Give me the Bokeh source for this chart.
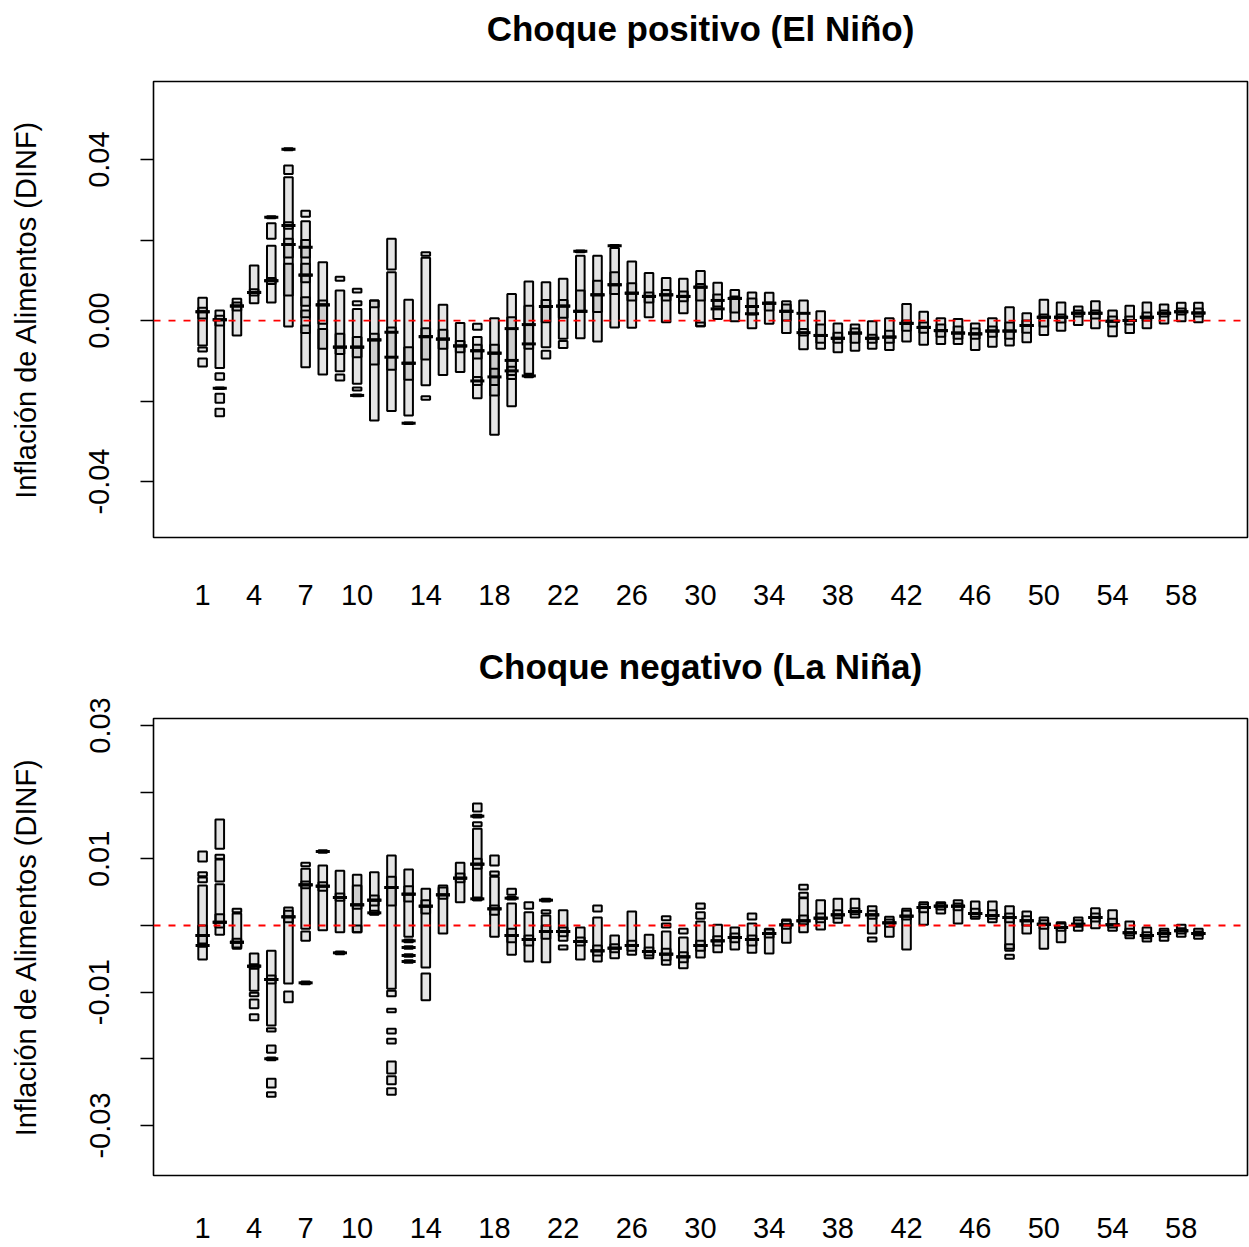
from bokeh.plotting import figure
from bokeh.models import Range1d, FixedTicker, ColumnDataSource, Span
from bokeh.core.properties import value
from bokeh.layouts import column
from bokeh.embed import file_html
from bokeh.resources import INLINE

FONT = "Liberation Sans"

X_TICKS = [1, 4, 7, 10, 14, 18, 22, 26, 30, 34, 38, 42, 46, 50, 54, 58]

NINO_TITLE = "Choque positivo (El Niño)"
NINA_TITLE = "Choque negativo (La Niña)"
Y_LABEL = "Inflación de Alimentos (DINF)"

NINO_YTICKS = [-0.04, -0.02, 0, 0.02, 0.04]
NINO_YLABELS = ["-0.04", "", "0.00", "", "0.04"]
NINA_YTICKS = [-0.03, -0.02, -0.01, 0, 0.01, 0.02, 0.03]
NINA_YLABELS = ["-0.03", "", "-0.01", "", "0.01", "", "0.03"]

# (horizon, lower hinge, upper hinge, median or None)
NINO_BOXES = [
    (1, -0.0062, 0.0057, 0.0022), (1, 0.0005, 0.0032, 0.0022), (1, -0.0077, -0.0067, None), (1, -0.0114, -0.0094, None),
    (2, -0.0118, 0.0025, 0.0002), (2, -0.0012, 0.0012, 0.0002), (2, -0.0147, -0.0131, None), (2, -0.0170, -0.0166, -0.0168),
    (2, -0.0204, -0.0182, None), (2, -0.0238, -0.0219, None),
    (3, -0.0037, 0.0054, 0.0036), (3, 0.0025, 0.0045, 0.0036),
    (4, 0.0043, 0.0137, 0.0070), (4, 0.0062, 0.0078, 0.0070),
    (5, 0.0254, 0.0259, 0.02565), (5, 0.0203, 0.0242, None), (5, 0.0045, 0.0186, 0.0099), (5, 0.0091, 0.0106, 0.0099),
    (6, 0.0423, 0.0428, 0.04255), (6, 0.0364, 0.0385, None), (6, -0.0015, 0.0356, 0.0189), (6, 0.0228, 0.0244, 0.0236),
    (6, 0.0157, 0.0203, 0.0189), (6, 0.0062, 0.0141, None),
    (7, 0.0258, 0.0273, None), (7, -0.0116, 0.0247, 0.0113), (7, 0.0095, 0.0141, 0.0113), (7, 0.0037, 0.0058, None),
    (7, 0.0008, 0.0025, None), (7, -0.0031, -0.0012, None), (7, 0.0157, 0.0200, 0.0182),
    (8, -0.0134, 0.0145, 0.0039), (8, -0.0008, 0.0050, 0.0039), (8, -0.0070, -0.0021, None),
    (9, 0.0099, 0.0109, None), (9, -0.0126, 0.0075, -0.0066), (9, -0.0083, -0.0033, -0.0066), (9, -0.0149, -0.0134, None),
    (10, 0.0070, 0.0079, None), (10, 0.0038, 0.0048, None), (10, -0.0157, 0.0029, -0.0066), (10, -0.0091, -0.0041, -0.0066),
    (10, -0.0174, -0.0166, None), (10, -0.0188, -0.0184, -0.0186),
    (11, -0.0248, 0.0050, -0.0048), (11, -0.0109, -0.0033, -0.0048), (11, 0.0033, 0.0050, None),
    (12, 0.0127, 0.0203, None), (12, -0.0225, 0.0120, -0.0091), (12, -0.0122, -0.0017, -0.0029),
    (13, -0.0236, 0.0052, -0.0106), (13, -0.0147, -0.0066, -0.0106), (13, -0.0257, -0.0253, -0.0255),
    (14, 0.0161, 0.0170, None), (14, -0.0161, 0.0156, -0.0040), (14, -0.0097, -0.0019, -0.0040), (14, -0.0197, -0.0188, None),
    (15, -0.0135, 0.0039, -0.0046), (15, -0.0070, -0.0023, -0.0046),
    (16, -0.0128, -0.0006, -0.0063), (16, -0.0079, -0.0051, -0.0063),
    (17, -0.0023, -0.0008, None), (17, -0.0193, -0.0041, -0.0075), (17, -0.0094, -0.0060, -0.0075), (17, -0.0160, -0.0140, -0.0150),
    (18, -0.0284, 0.0006, -0.0081), (18, -0.0186, -0.0060, -0.0081), (18, -0.0160, -0.0120, -0.0140),
    (19, -0.0213, 0.0066, -0.0099), (19, -0.0145, 0.0008, -0.0020), (19, -0.0135, -0.0115, -0.0125),
    (20, -0.0132, 0.0097, -0.0058), (20, -0.0070, 0.0037, -0.0010), (20, -0.0141, -0.0134, -0.01375),
    (21, -0.0066, 0.0095, 0.0035), (21, -0.0004, 0.0051, 0.0035), (21, -0.0094, -0.0075, None),
    (22, -0.0045, 0.0104, 0.0036), (22, 0.0007, 0.0051, 0.0036), (22, -0.0068, -0.0051, None),
    (23, 0.0170, 0.0174, 0.0172), (23, -0.0044, 0.0161, 0.0023), (23, 0.0023, 0.0075, 0.0023),
    (24, -0.0052, 0.0161, 0.0064), (24, 0.0021, 0.0099, 0.0064),
    (25, 0.0184, 0.0188, 0.0186), (25, -0.0017, 0.0180, 0.0089), (25, 0.0066, 0.0120, 0.0089),
    (26, -0.0018, 0.0147, 0.0068), (26, 0.0050, 0.0093, 0.0068),
    (27, 0.0008, 0.0118, 0.0060), (27, 0.0045, 0.0070, 0.0060),
    (28, -0.0004, 0.0106, 0.0064), (28, 0.0050, 0.0076, 0.0064),
    (29, 0.0018, 0.0104, 0.0060), (29, 0.0048, 0.0072, 0.0060),
    (30, -0.0014, 0.0123, 0.0083), (30, 0.0050, 0.0091, 0.0083), (30, -0.0014, -0.0005, None),
    (31, 0.0004, 0.0094, 0.0029), (31, 0.0035, 0.0065, 0.0050),
    (32, -0.0002, 0.0076, 0.0055), (32, 0.0020, 0.0060, 0.0055),
    (33, -0.0019, 0.0070, 0.0017), (33, 0.0015, 0.0055, 0.0035),
    (34, -0.0008, 0.0069, 0.0043), (34, 0.0025, 0.0045, 0.0043),
    (35, -0.0031, 0.0048, 0.0023), (35, 0.0000, 0.0040, 0.0023),
    (36, -0.0071, 0.0050, 0.0018), (36, -0.0037, -0.0021, -0.0030),
    (37, -0.0070, 0.0023, -0.0037), (37, -0.0055, -0.0010, -0.0037),
    (38, -0.0079, -0.0007, -0.0044), (38, -0.0055, -0.0030, -0.0044),
    (39, -0.0075, -0.0010, -0.0031), (39, -0.0055, -0.0020, -0.0031),
    (40, -0.0070, -0.0002, -0.0044), (40, -0.0055, -0.0035, -0.0044),
    (41, -0.0073, 0.0006, -0.0041), (41, -0.0055, -0.0025, -0.0041),
    (42, -0.0052, 0.0041, -0.0007), (42, -0.0025, 0.0000, -0.0007),
    (43, -0.0060, 0.0022, -0.0017), (43, -0.0030, -0.0005, -0.0017),
    (44, -0.0058, 0.0006, -0.0025), (44, -0.0040, -0.0010, -0.0025),
    (45, -0.0058, 0.0004, -0.0031), (45, -0.0045, -0.0015, -0.0031),
    (46, -0.0073, -0.0007, -0.0033), (46, -0.0045, -0.0020, -0.0033),
    (47, -0.0065, 0.0006, -0.0026), (47, -0.0040, -0.0015, -0.0026),
    (48, -0.0062, 0.0033, -0.0026), (48, -0.0045, -0.0005, -0.0026),
    (49, -0.0054, 0.0018, -0.0012), (49, -0.0030, 0.0000, -0.0012),
    (50, -0.0036, 0.0052, 0.0008), (50, -0.0015, 0.0015, 0.0008),
    (51, -0.0025, 0.0045, 0.0008), (51, -0.0005, 0.0015, 0.0008),
    (52, -0.0011, 0.0035, 0.0018), (52, 0.0010, 0.0025, 0.0018),
    (53, -0.0019, 0.0048, 0.0018), (53, 0.0005, 0.0025, 0.0018),
    (54, -0.0039, 0.0025, -0.0002), (54, -0.0015, 0.0010, -0.0002),
    (55, -0.0031, 0.0037, 0.0000), (55, -0.0010, 0.0010, 0.0000),
    (56, -0.0019, 0.0045, 0.0008), (56, 0.0000, 0.0020, 0.0008),
    (57, -0.0007, 0.0040, 0.0018), (57, 0.0010, 0.0025, 0.0018),
    (58, -0.0002, 0.0044, 0.0022), (58, 0.0015, 0.0030, 0.0022),
    (59, -0.0004, 0.0044, 0.0019), (59, 0.0010, 0.0030, 0.0019),
]

NINA_BOXES = [
    (1, 0.0096, 0.0111, None), (1, 0.0074, 0.0080, None), (1, 0.0065, 0.0072, None), (1, -0.0051, 0.0060, -0.0015),
    (1, -0.0027, 0.0000, -0.0015), (1, -0.0032, -0.0028, -0.0030),
    (2, 0.0115, 0.0159, None), (2, 0.0100, 0.0106, None), (2, 0.0066, 0.0099, None), (2, -0.0014, 0.0062, 0.0005),
    (2, -0.0003, 0.0017, 0.0005),
    (3, 0.0020, 0.0025, None), (3, -0.0035, 0.0018, -0.0025), (3, -0.0033, -0.0020, -0.0025),
    (4, -0.0098, -0.0042, -0.0061), (4, -0.0065, -0.0058, -0.0061), (4, -0.0106, -0.0101, None), (4, -0.0124, -0.0111, None),
    (4, -0.0142, -0.0133, None),
    (5, -0.0150, -0.0038, -0.0081), (5, -0.0087, -0.0075, -0.0081), (5, -0.0159, -0.0154, None), (5, -0.0191, -0.0180, None),
    (5, -0.0202, -0.0198, -0.0200), (5, -0.0243, -0.0230, None), (5, -0.0257, -0.0250, None),
    (6, -0.0087, 0.0027, 0.0013), (6, 0.0005, 0.0022, 0.0013), (6, -0.0115, -0.0099, None),
    (7, 0.0089, 0.0094, None), (7, -0.0005, 0.0085, 0.0061), (7, 0.0056, 0.0066, 0.0061), (7, -0.0023, -0.0009, None),
    (7, -0.0088, -0.0084, -0.0086),
    (8, 0.0109, 0.0113, 0.0111), (8, -0.0007, 0.0090, 0.0059), (8, 0.0052, 0.0065, 0.0059),
    (9, -0.0010, 0.0082, 0.0042), (9, 0.0037, 0.0048, 0.0042), (9, -0.0043, -0.0039, -0.0041),
    (10, -0.0010, 0.0076, 0.0031), (10, 0.0025, 0.0060, 0.0031), (10, -0.0010, 0.0000, None),
    (11, 0.0017, 0.0080, 0.0038), (11, 0.0030, 0.0045, 0.0038), (11, 0.0016, 0.0022, 0.0019),
    (12, -0.0095, 0.0105, 0.0057), (12, 0.0030, 0.0073, 0.0057), (12, -0.0106, -0.0098, None), (12, -0.0130, -0.0125, None),
    (12, -0.0162, -0.0155, None), (12, -0.0177, -0.0170, None), (12, -0.0222, -0.0204, None), (12, -0.0238, -0.0226, None),
    (12, -0.0254, -0.0244, None),
    (13, -0.0017, 0.0084, 0.0047), (13, 0.0036, 0.0059, 0.0047), (13, -0.0025, -0.0021, -0.0023), (13, -0.0035, -0.0031, -0.0033),
    (13, -0.0047, -0.0043, -0.0045), (13, -0.0056, -0.0052, -0.0054),
    (14, -0.0063, 0.0055, 0.0029), (14, 0.0018, 0.0038, 0.0029), (14, -0.0112, -0.0072, None),
    (15, -0.0012, 0.0060, 0.0046), (15, 0.0040, 0.0057, 0.0046),
    (16, 0.0035, 0.0094, 0.0071), (16, 0.0065, 0.0078, 0.0071),
    (17, 0.0171, 0.0183, None), (17, 0.0162, 0.0166, 0.0164), (17, 0.0149, 0.0155, None), (17, 0.0038, 0.0145, 0.0092),
    (17, 0.0085, 0.0100, 0.0092), (17, 0.0038, 0.0042, 0.0040),
    (18, 0.0090, 0.0105, None), (18, 0.0075, 0.0081, None), (18, -0.0017, 0.0073, 0.0025), (18, 0.0016, 0.0030, 0.0025),
    (19, 0.0046, 0.0055, None), (19, 0.0039, 0.0043, 0.0041), (19, -0.0044, 0.0033, -0.0015), (19, -0.0025, -0.0005, -0.0015),
    (20, 0.0025, 0.0035, None), (20, -0.0054, 0.0020, -0.0021), (20, -0.0030, -0.0015, -0.0021),
    (21, 0.0036, 0.0040, 0.0038), (21, 0.0018, 0.0023, None), (21, -0.0055, 0.0015, -0.0009), (21, -0.0020, 0.0000, -0.0009),
    (22, -0.0023, 0.0023, -0.0009), (22, -0.0016, -0.0003, -0.0009), (22, -0.0036, -0.0030, None),
    (23, -0.0051, -0.0003, -0.0024), (23, -0.0030, -0.0018, -0.0024),
    (24, 0.0021, 0.0030, None), (24, -0.0054, 0.0012, -0.0038), (24, -0.0045, -0.0030, -0.0038),
    (25, -0.0049, -0.0015, -0.0034), (25, -0.0040, -0.0028, -0.0034),
    (26, -0.0044, 0.0021, -0.0030), (26, -0.0038, -0.0023, -0.0030),
    (27, -0.0049, -0.0014, -0.0039), (27, -0.0045, -0.0033, -0.0039),
    (28, 0.0008, 0.0014, None), (28, -0.0003, 0.0003, None), (28, -0.0059, -0.0009, -0.0043), (28, -0.0052, -0.0035, -0.0043),
    (29, -0.0012, -0.0005, None), (29, -0.0064, -0.0018, -0.0047), (29, -0.0055, -0.0040, -0.0047),
    (30, 0.0025, 0.0033, None), (30, 0.0010, 0.0020, None), (30, -0.0048, 0.0006, -0.0030), (30, -0.0038, -0.0023, -0.0030),
    (31, -0.0040, 0.0001, -0.0023), (31, -0.0030, -0.0016, -0.0023),
    (32, -0.0036, -0.0003, -0.0018), (32, -0.0025, -0.0012, -0.0018),
    (33, 0.0009, 0.0018, None), (33, -0.0041, 0.0003, -0.0021), (33, -0.0030, -0.0015, -0.0021),
    (34, -0.0042, -0.0005, -0.0012), (34, -0.0018, -0.0006, -0.0012),
    (35, -0.0026, 0.0009, 0.0001), (35, -0.0005, 0.0007, 0.0001),
    (36, 0.0054, 0.0061, None), (36, 0.0042, 0.0049, None), (36, -0.0010, 0.0041, 0.0007), (36, 0.0002, 0.0015, 0.0007),
    (37, -0.0006, 0.0038, 0.0011), (37, 0.0005, 0.0018, 0.0011),
    (38, 0.0004, 0.0040, 0.0016), (38, 0.0011, 0.0023, 0.0016),
    (39, 0.0012, 0.0040, 0.0021), (39, 0.0017, 0.0026, 0.0021),
    (40, -0.0012, 0.0029, 0.0016), (40, 0.0010, 0.0022, 0.0016), (40, -0.0024, -0.0018, None),
    (41, -0.0017, 0.0013, 0.0004), (41, -0.0002, 0.0009, 0.0004),
    (42, -0.0036, 0.0025, 0.0014), (42, 0.0009, 0.0022, 0.0014),
    (43, 0.0001, 0.0035, 0.0027), (43, 0.0020, 0.0032, 0.0027),
    (44, 0.0018, 0.0035, 0.0029), (44, 0.0024, 0.0033, 0.0029),
    (45, 0.0003, 0.0038, 0.0029), (45, 0.0023, 0.0033, 0.0029),
    (46, 0.0010, 0.0036, 0.0018), (46, 0.0013, 0.0025, 0.0018),
    (47, 0.0005, 0.0036, 0.0015), (47, 0.0010, 0.0023, 0.0015),
    (48, -0.0035, 0.0029, 0.0012), (48, 0.0005, 0.0018, 0.0012), (48, -0.0038, -0.0028, None), (48, -0.0050, -0.0044, None),
    (49, -0.0012, 0.0021, 0.0007), (49, 0.0000, 0.0014, 0.0007),
    (50, -0.0035, 0.0012, 0.0002), (50, -0.0005, 0.0008, 0.0002),
    (51, -0.0025, 0.0005, -0.0003), (51, -0.0008, 0.0003, -0.0003),
    (52, -0.0008, 0.0012, 0.0002), (52, -0.0002, 0.0008, 0.0002),
    (53, -0.0004, 0.0026, 0.0012), (53, 0.0006, 0.0018, 0.0012),
    (54, -0.0008, 0.0023, 0.0001), (54, -0.0003, 0.0010, 0.0001),
    (55, -0.0019, 0.0006, -0.0011), (55, -0.0015, -0.0005, -0.0011),
    (56, -0.0024, -0.0003, -0.0015), (56, -0.0019, -0.0010, -0.0015),
    (57, -0.0023, -0.0005, -0.0012), (57, -0.0017, -0.0008, -0.0012),
    (58, -0.0017, 0.0001, -0.0008), (58, -0.0012, -0.0004, -0.0008),
    (59, -0.0020, -0.0005, -0.0012), (59, -0.0015, -0.0009, -0.0012),
]

NINO_YRANGE = (-0.0539, 0.0594)
NINA_YRANGE = (-0.0375, 0.03105)
X_RANGE = (-1.86, 61.86)

BOX_HALF = 0.25
MED_HALF = 0.41
TITLE_H = 56


def make_title(title):
    t = figure(width=1249, height=TITLE_H, output_backend="svg", toolbar_location=None,
               x_range=Range1d(*X_RANGE), y_range=Range1d(0, 1),
               x_axis_location=None, y_axis_location=None,
               min_border_left=153, min_border_right=2, min_border_top=0, min_border_bottom=0)
    t.grid.visible = False
    t.outline_line_color = None
    t.background_fill_color = "white"
    t.border_fill_color = "white"
    src = ColumnDataSource(dict(x=[(X_RANGE[0] + X_RANGE[1]) / 2], y=[0.5], text=[title]))
    t.text(x="x", y="y", text="text", source=src, text_align="center", text_baseline="middle",
           text_font=value(FONT), text_font_size="35px", text_font_style="bold", text_color="black")
    return t


def make_panel(boxes, yticks, ylabels, yrange, height, border_top, border_bottom, xstandoff):
    p = figure(width=1249, height=height, output_backend="svg", toolbar_location=None,
               x_range=Range1d(*X_RANGE), y_range=Range1d(*yrange),
               min_border_left=153, min_border_right=2,
               min_border_top=border_top, min_border_bottom=border_bottom)
    p.background_fill_color = "white"
    p.border_fill_color = "white"
    p.outline_line_color = "black"
    p.outline_line_width = 1.6
    p.outline_line_alpha = 1.0
    p.grid.visible = False

    cats = [b[0] for b in boxes]
    box_src = ColumnDataSource(dict(
        left=[c - BOX_HALF for c in cats],
        right=[c + BOX_HALF for c in cats],
        bottom=[b[1] for b in boxes],
        top=[b[2] for b in boxes],
    ))
    p.quad(left="left", right="right", bottom="bottom", top="top", source=box_src,
           fill_color="black", fill_alpha=0.1, line_color="black", line_width=2)

    meds = [b for b in boxes if b[3] is not None]
    med_src = ColumnDataSource(dict(
        x0=[b[0] - MED_HALF for b in meds],
        x1=[b[0] + MED_HALF for b in meds],
        y=[b[3] for b in meds],
    ))
    p.segment(x0="x0", y0="y", x1="x1", y1="y", source=med_src,
              line_color="black", line_width=3)

    p.add_layout(Span(location=0, dimension="width", line_color="red",
                      line_dash="7 8", line_width=1.8))

    xa = p.xaxis[0]
    xa.ticker = FixedTicker(ticks=X_TICKS)
    xa.axis_line_color = None
    xa.major_tick_line_color = None
    xa.minor_tick_line_color = None
    xa.major_label_standoff = xstandoff
    xa.major_label_text_font = FONT
    xa.major_label_text_font_size = "29px"
    xa.major_label_text_color = "black"

    ya = p.yaxis[0]
    ya.ticker = FixedTicker(ticks=yticks)
    ya.major_label_overrides = {t: l for t, l in zip(yticks, ylabels)}
    ya.axis_line_color = None
    ya.major_tick_line_color = "black"
    ya.major_tick_line_width = 1.5
    ya.major_tick_out = 13
    ya.major_tick_in = 0
    ya.minor_tick_line_color = None
    ya.major_label_orientation = "vertical"
    ya.major_label_standoff = 31
    ya.major_label_text_font = FONT
    ya.major_label_text_font_size = "29px"
    ya.major_label_text_color = "black"
    ya.axis_label = Y_LABEL
    ya.axis_label_text_font = FONT
    ya.axis_label_text_font_size = "29px"
    ya.axis_label_text_font_style = "normal"
    ya.axis_label_text_color = "black"
    ya.axis_label_standoff = 45
    return p


t1 = make_title(NINO_TITLE)
p1 = make_panel(NINO_BOXES, NINO_YTICKS, NINO_YLABELS, NINO_YRANGE, 638 - TITLE_H, 81 - TITLE_H, 101, 41)
t2 = make_title(NINA_TITLE)
p2 = make_panel(NINA_BOXES, NINA_YTICKS, NINA_YLABELS, NINA_YRANGE, 609 - TITLE_H, 80 - TITLE_H, 72, 36)

layout = column(t1, p1, t2, p2, spacing=0)
open("out.html", "w").write(file_html(layout, INLINE))
